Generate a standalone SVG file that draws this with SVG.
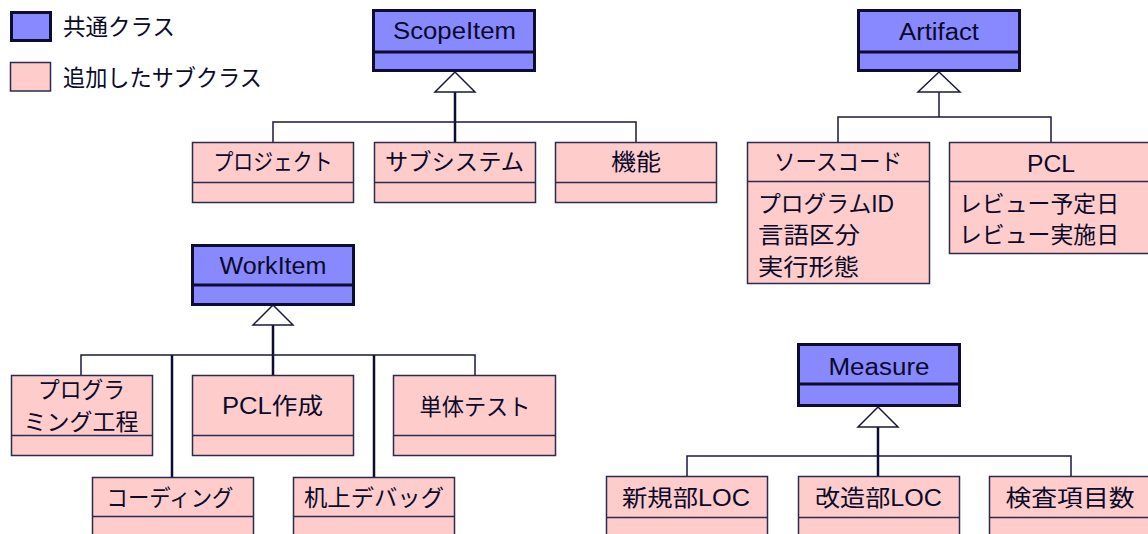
<svg xmlns="http://www.w3.org/2000/svg" width="1148" height="534" viewBox="0 0 1148 534">
<style>
.common{fill:#8888ff;stroke:#0d0d33;stroke-width:3}
.cdiv{stroke:#0d0d33;stroke-width:3}
.sub{fill:#ffcccc;stroke:#2b2b4d;stroke-width:1.5}
.sdiv{stroke:#2b2b4d;stroke-width:1.5}
text{font-family:"Liberation Sans","Noto Sans CJK JP",sans-serif;font-size:23px;fill:#0a0a2a}
.c{text-anchor:middle}
.ln{fill:none;stroke:#1a1a3d;stroke-width:1.5}
.tk{fill:none;stroke:#0d0d33;stroke-width:2.5}
.tri{fill:#ffffff;stroke:#1a1a3d;stroke-width:1.5}
</style>

<g id="legend">
<rect class="common" x="11.5" y="12.5" width="39" height="28"/>
<text x="63" y="35" textLength="112" lengthAdjust="spacingAndGlyphs">共通クラス</text>
<rect class="sub" x="10.5" y="62.5" width="40" height="28.5"/>
<text x="63" y="86" textLength="199" lengthAdjust="spacingAndGlyphs">追加したサブクラス</text>
</g>

<g id="connectors">
<!-- ScopeItem -->
<path class="tk" d="M455 92 V142"/>
<path class="ln" d="M273 142 V122 H636 V142"/>
<polygon class="tri" points="455,72 435,92 475,92"/>
<!-- Artifact -->
<path class="ln" d="M939 92 V117 M838 142 V117 H1051 V142"/>
<polygon class="tri" points="939,72 918,92 960,92"/>
<!-- WorkItem -->
<path class="tk" d="M273 325 V375 M172 355 V477 M374 355 V477"/>
<path class="ln" d="M81 375 V355 H475 V375"/>
<polygon class="tri" points="273,305 253,325 293,325"/>
<!-- Measure -->
<path class="tk" d="M878 427 V476"/>
<path class="ln" d="M687 476 V456 H1071 V476"/>
<polygon class="tri" points="878,407 858,427 898,427"/>
</g>

<g id="ScopeItem">
<rect class="common" x="373.5" y="10.5" width="161" height="60"/>
<line class="cdiv" x1="373.5" y1="52" x2="534.5" y2="52"/>
<text class="c" x="454.5" y="39" textLength="123" lengthAdjust="spacingAndGlyphs">ScopeItem</text>
</g>

<g id="Project">
<rect class="sub" x="192.5" y="142.5" width="161" height="60"/>
<line class="sdiv" x1="192.5" y1="182.5" x2="353.5" y2="182.5"/>
<text class="c" x="273" y="170" textLength="119" lengthAdjust="spacingAndGlyphs">プロジェクト</text>
</g>

<g id="Subsystem">
<rect class="sub" x="374.5" y="142.5" width="161" height="60"/>
<line class="sdiv" x1="374.5" y1="182.5" x2="535.5" y2="182.5"/>
<text class="c" x="454.5" y="170" textLength="139" lengthAdjust="spacingAndGlyphs">サブシステム</text>
</g>

<g id="Function">
<rect class="sub" x="555.5" y="142.5" width="161" height="60"/>
<line class="sdiv" x1="555.5" y1="182.5" x2="716.5" y2="182.5"/>
<text class="c" x="636" y="170" textLength="50" lengthAdjust="spacingAndGlyphs">機能</text>
</g>

<g id="Artifact">
<rect class="common" x="858.5" y="10.5" width="161" height="60"/>
<line class="cdiv" x1="858.5" y1="52" x2="1019.5" y2="52"/>
<text class="c" x="939" y="40" textLength="80" lengthAdjust="spacingAndGlyphs">Artifact</text>
</g>

<g id="SourceCode">
<rect class="sub" x="747.5" y="142.5" width="182" height="141"/>
<line class="sdiv" x1="747.5" y1="181.5" x2="929.5" y2="181.5"/>
<text class="c" x="838" y="169.5" textLength="128" lengthAdjust="spacingAndGlyphs">ソースコード</text>
<text x="758" y="211.5" textLength="136" lengthAdjust="spacingAndGlyphs">プログラムID</text>
<text x="758" y="243" textLength="102" lengthAdjust="spacingAndGlyphs">言語区分</text>
<text x="758" y="274.5" textLength="101" lengthAdjust="spacingAndGlyphs">実行形態</text>
</g>

<g id="PCL">
<rect class="sub" x="949.5" y="142.5" width="204" height="111"/>
<line class="sdiv" x1="949.5" y1="181.5" x2="1153.5" y2="181.5"/>
<text class="c" x="1051" y="172" textLength="48" lengthAdjust="spacingAndGlyphs">PCL</text>
<text x="959" y="211.5" textLength="160" lengthAdjust="spacingAndGlyphs">レビュー予定日</text>
<text x="959" y="243" textLength="160" lengthAdjust="spacingAndGlyphs">レビュー実施日</text>
</g>

<g id="WorkItem">
<rect class="common" x="192.5" y="245.5" width="161" height="59"/>
<line class="cdiv" x1="192.5" y1="285" x2="353.5" y2="285"/>
<text class="c" x="273" y="273.5" textLength="107" lengthAdjust="spacingAndGlyphs">WorkItem</text>
</g>

<g id="Programming">
<rect class="sub" x="11.5" y="375.5" width="141" height="80"/>
<line class="sdiv" x1="11.5" y1="435.5" x2="152.5" y2="435.5"/>
<text class="c" x="81.5" y="397.5" textLength="87" lengthAdjust="spacingAndGlyphs">プログラ</text>
<text class="c" x="81" y="429.5" textLength="115" lengthAdjust="spacingAndGlyphs">ミング工程</text>
</g>

<g id="PCLCreate">
<rect class="sub" x="192.5" y="375.5" width="161" height="80"/>
<line class="sdiv" x1="192.5" y1="435.5" x2="353.5" y2="435.5"/>
<text class="c" x="272.5" y="414" textLength="101" lengthAdjust="spacingAndGlyphs">PCL作成</text>
</g>

<g id="UnitTest">
<rect class="sub" x="393.5" y="375.5" width="162" height="80"/>
<line class="sdiv" x1="393.5" y1="435.5" x2="555.5" y2="435.5"/>
<text class="c" x="475" y="414.5" textLength="111" lengthAdjust="spacingAndGlyphs">単体テスト</text>
</g>

<g id="Coding">
<rect class="sub" x="92.5" y="477.5" width="161" height="60"/>
<line class="sdiv" x1="92.5" y1="516.5" x2="253.5" y2="516.5"/>
<text class="c" x="170" y="505.5" textLength="127" lengthAdjust="spacingAndGlyphs">コーディング</text>
</g>

<g id="DeskDebug">
<rect class="sub" x="293.5" y="477.5" width="161" height="60"/>
<line class="sdiv" x1="293.5" y1="516.5" x2="454.5" y2="516.5"/>
<text class="c" x="374" y="505.5" textLength="140" lengthAdjust="spacingAndGlyphs">机上デバッグ</text>
</g>

<g id="Measure">
<rect class="common" x="798.5" y="344.5" width="161" height="61"/>
<line class="cdiv" x1="798.5" y1="384" x2="959.5" y2="384"/>
<text class="c" x="879" y="374.5" textLength="101" lengthAdjust="spacingAndGlyphs">Measure</text>
</g>

<g id="NewLOC">
<rect class="sub" x="606.5" y="476.5" width="161" height="60"/>
<line class="sdiv" x1="606.5" y1="517.5" x2="767.5" y2="517.5"/>
<text class="c" x="686" y="505.5" textLength="128" lengthAdjust="spacingAndGlyphs">新規部LOC</text>
</g>

<g id="ModLOC">
<rect class="sub" x="798.5" y="476.5" width="161" height="60"/>
<line class="sdiv" x1="798.5" y1="517.5" x2="959.5" y2="517.5"/>
<text class="c" x="878.5" y="505.5" textLength="127" lengthAdjust="spacingAndGlyphs">改造部LOC</text>
</g>

<g id="InspectItems">
<rect class="sub" x="989.5" y="476.5" width="162" height="60"/>
<line class="sdiv" x1="989.5" y1="517.5" x2="1151.5" y2="517.5"/>
<text class="c" x="1070" y="505.5" textLength="129" lengthAdjust="spacingAndGlyphs">検査項目数</text>
</g>
</svg>
